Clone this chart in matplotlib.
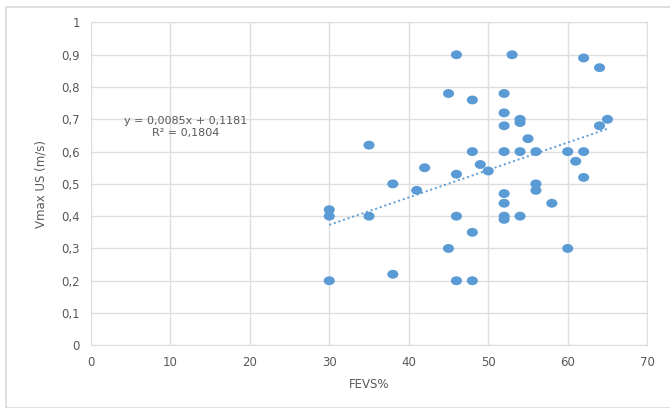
import numpy as np
import matplotlib.pyplot as plt
from matplotlib.patches import Rectangle
from matplotlib.path import Path

# FEVS% vs Vmax US (m/s)
fevs = [30, 30, 30, 35, 35, 38, 38, 41, 42, 45, 45, 46, 46, 46, 46, 48, 48, 48, 48,
        49, 50, 52, 52, 52, 52, 52, 52, 52, 52, 53, 54, 54, 54, 54, 55, 56, 56, 56,
        58, 60, 60, 61, 62, 62, 62, 64, 64, 65]
vmax = [0.42, 0.40, 0.20, 0.62, 0.40, 0.50, 0.22, 0.48, 0.55, 0.78, 0.30, 0.90, 0.53,
        0.40, 0.20, 0.76, 0.60, 0.35, 0.20, 0.56, 0.54, 0.78, 0.72, 0.68, 0.60, 0.47,
        0.44, 0.40, 0.39, 0.90, 0.70, 0.69, 0.60, 0.40, 0.64, 0.60, 0.50, 0.48, 0.44,
        0.60, 0.30, 0.57, 0.89, 0.60, 0.52, 0.86, 0.68, 0.70]

# linear trendline as reported on the chart
slope = 0.0085
intercept = 0.1181
r2 = 0.1804

xticks = [0, 10, 20, 30, 40, 50, 60, 70]
yticks = [0, 0.1, 0.2, 0.3, 0.4, 0.5, 0.6, 0.7, 0.8, 0.9, 1.0]

blue = '#5B9BD5'
grid = '#DEDEDE'
txt = '#595959'

# slightly flattened dot, like the stretched original
circ = Path.unit_circle()
oval = Path(circ.vertices * np.array([1.0, 0.8]), circ.codes)

fig = plt.figure(figsize=(6.7, 4.08), dpi=100)
ax = fig.add_axes([0.1355, 0.1537, 0.966 - 0.1355, 0.9449 - 0.1537])

# outer chart frame
fig.patches.append(Rectangle((6 / 670, 0.0), 1.2, (408 - 7) / 408, transform=fig.transFigure,
                             fill=False, edgecolor='#D9D9D9', linewidth=1.2))

ax.scatter(fevs, vmax, s=64, marker=oval, color=blue, edgecolors='none', zorder=3)

xt = np.array([min(fevs), max(fevs)])
ax.plot(xt, slope * xt + intercept, linestyle=(0, (1, 1.5)), color=blue, linewidth=1.4, zorder=2)

ax.set_xlim(0, 70)
ax.set_ylim(0, 1)
ax.set_xticks(xticks)
ax.set_yticks(yticks)
ax.set_xticklabels([str(v) for v in xticks])
ax.set_yticklabels([('%g' % v).replace('.', ',') for v in yticks])
ax.tick_params(length=0, colors=txt, labelsize=8.5, pad=8)
ax.grid(True, color=grid, linewidth=1)
ax.set_axisbelow(True)
for s in ax.spines.values():
    s.set_color(grid)

ax.set_xlabel('FEVS%', color=txt, fontsize=8.5, labelpad=6)
ax.set_ylabel('Vmax US (m/s)', color=txt, fontsize=8.5, labelpad=10)

eq = 'y = %sx + %s\nR² = %s' % (str(slope).replace('.', ','), str(intercept).replace('.', ','),
                                 str(r2).replace('.', ','))
ax.text(11.9, 0.675, eq, ha='center', va='center', fontsize=8, color=txt, linespacing=1.25)

fig.savefig('out.png', dpi=100)
